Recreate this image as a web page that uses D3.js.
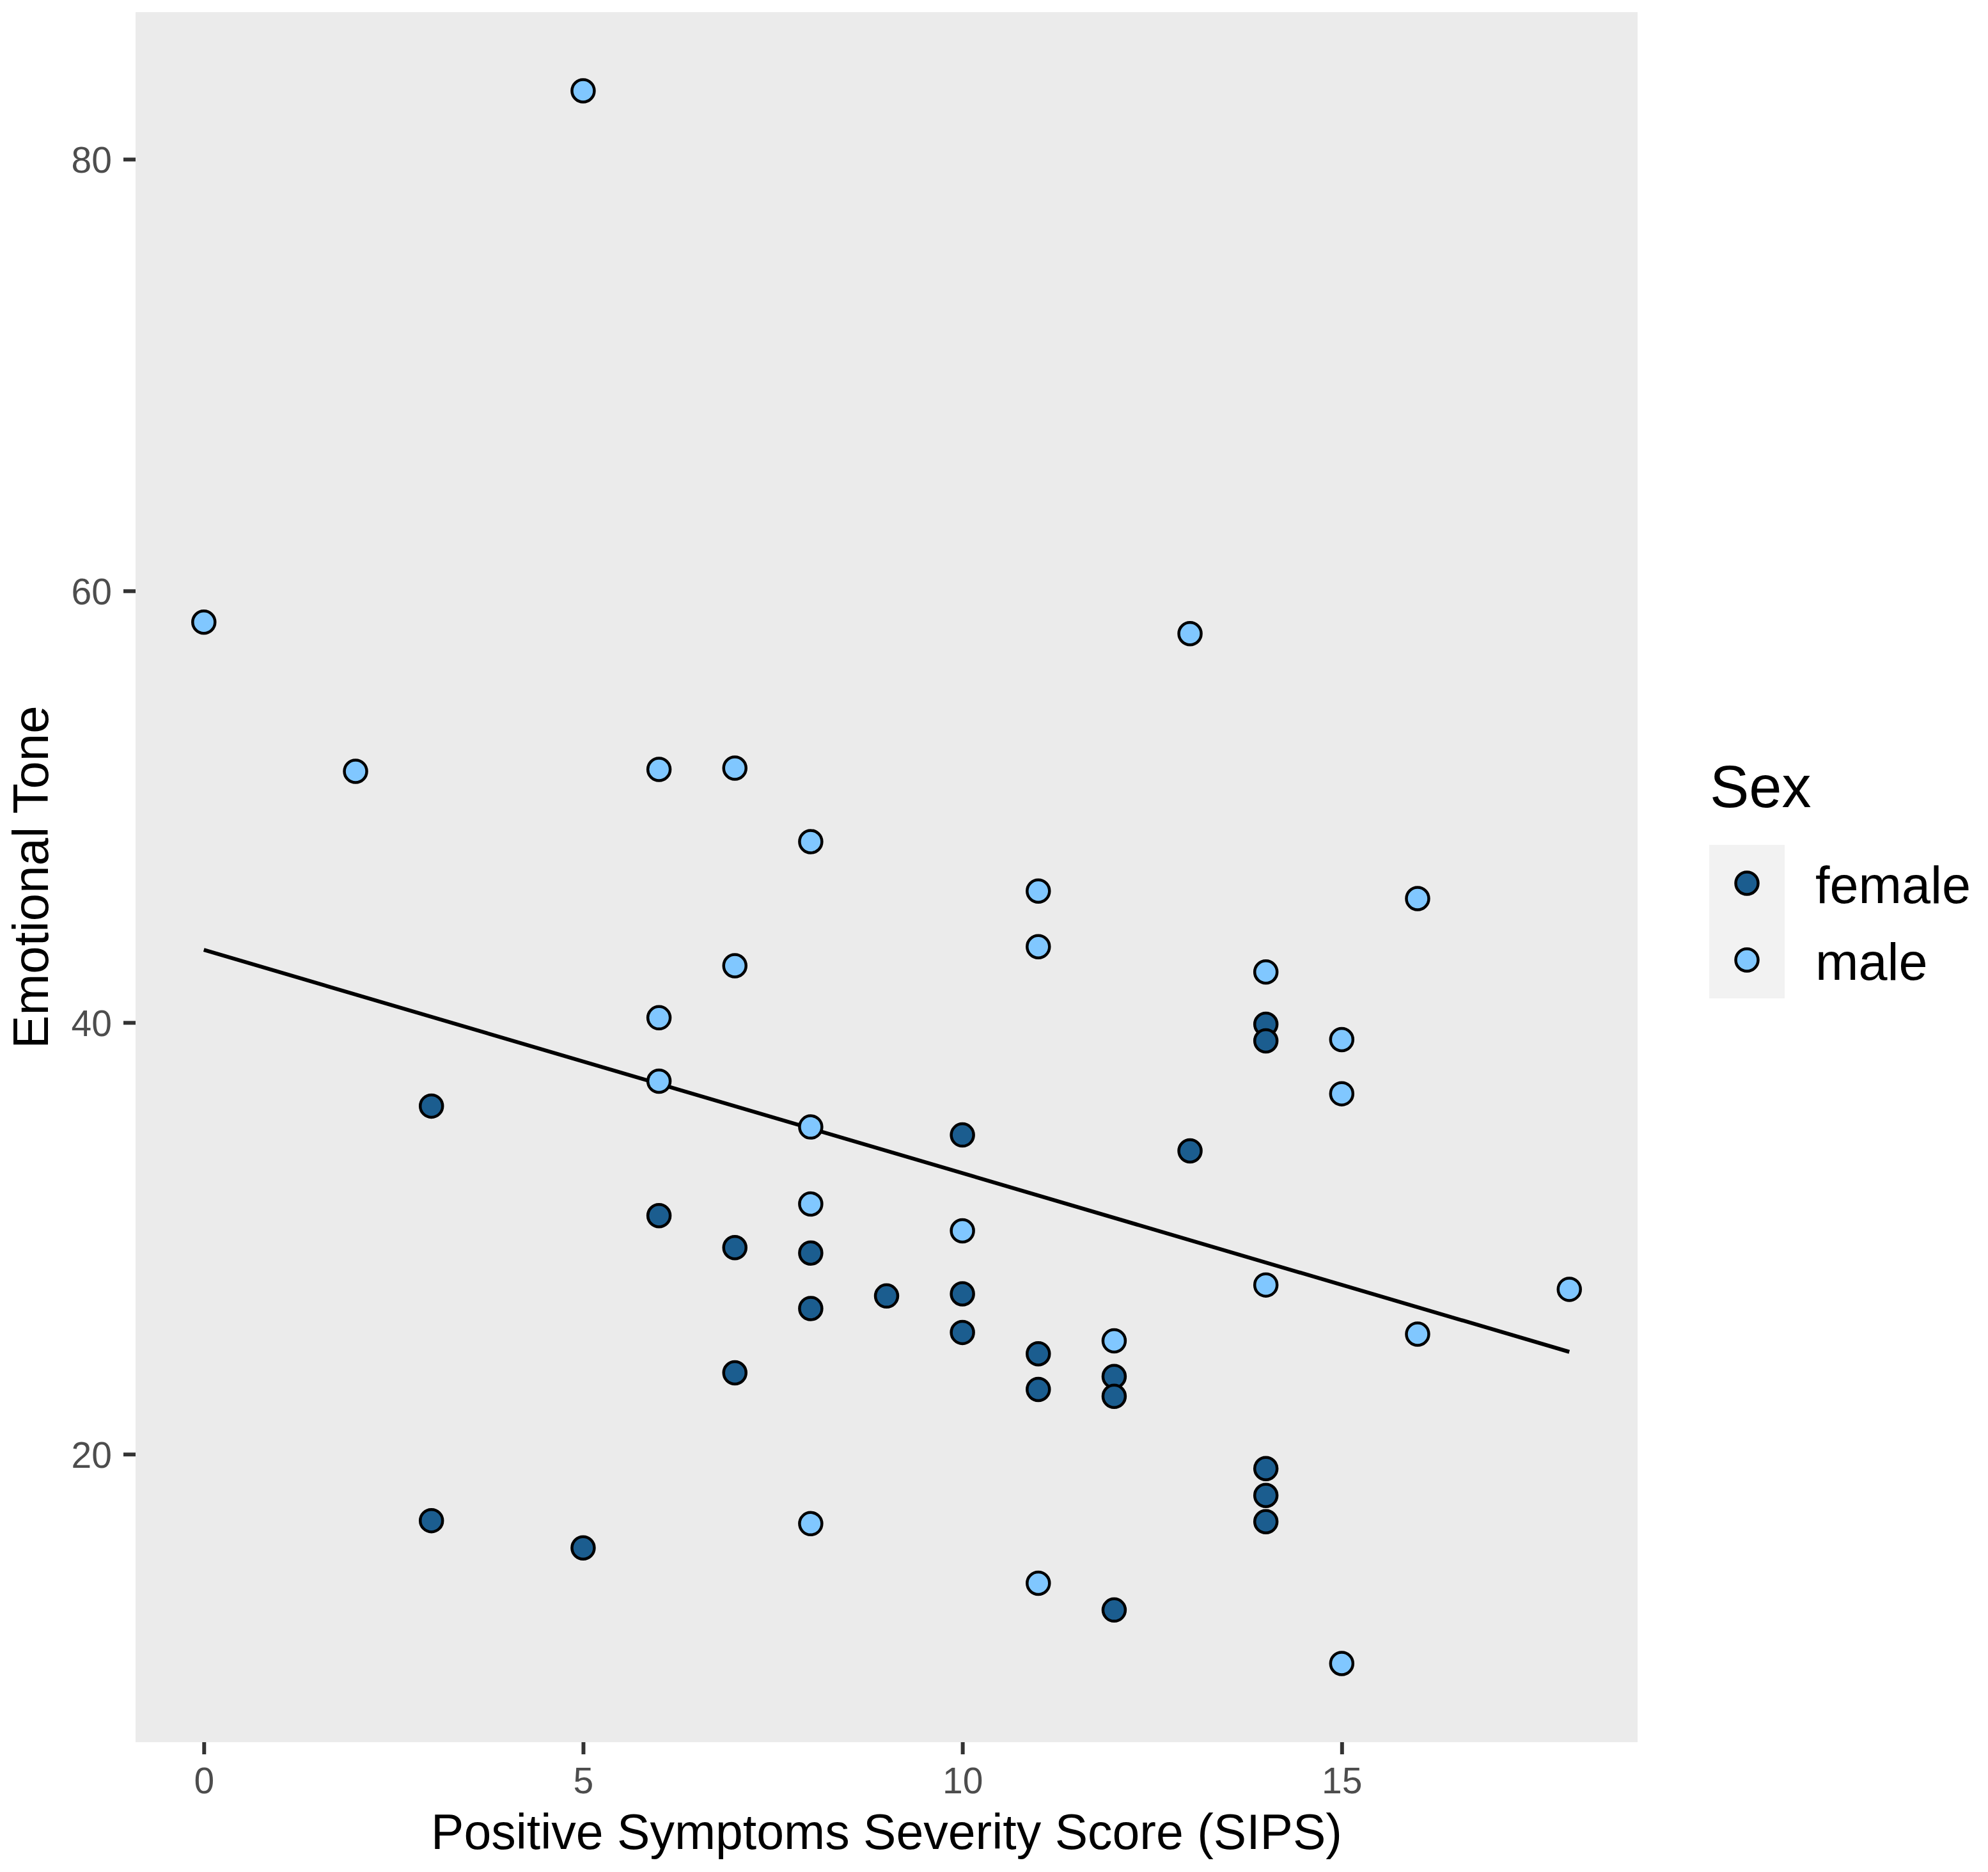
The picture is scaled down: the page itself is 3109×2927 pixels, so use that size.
<!DOCTYPE html>
<html>
<head>
<meta charset="utf-8">
<script src="https://cdn.jsdelivr.net/npm/d3@7"></script>
<style>
  html, body { margin: 0; padding: 0; background: #ffffff; }
  svg { display: block; }
  text { font-family: "Liberation Sans", Arial, Helvetica, sans-serif; }
</style>
</head>
<body>
<div id="chart"></div>
<script>
// ---------- data ----------
const sexCategories = ["female", "male"];
const sexColors = ["#1B5D8F", "#80C7FF"];

const femaleX = [3, 14, 14, 10, 13, 6, 7, 8, 9, 10, 8, 10, 11, 12, 7, 11, 12, 14, 14, 14, 3, 5, 12];
const femaleY = [36.13, 39.92, 39.15, 34.79, 34.05, 31.05, 29.57, 29.32, 27.33, 27.43, 26.75, 25.64, 24.65, 23.6, 23.77, 23.0, 22.68, 19.33, 18.09, 16.87, 16.92, 15.66, 12.78];

const maleX = [5, 0, 13, 2, 6, 7, 8, 11, 16, 11, 7, 14, 6, 15, 6, 15, 8, 8, 10, 14, 18, 16, 12, 8, 11, 15];
const maleY = [83.17, 58.55, 58.02, 51.64, 51.73, 51.79, 48.38, 46.09, 45.74, 43.51, 42.63, 42.34, 40.22, 39.21, 37.28, 36.70, 35.16, 31.59, 30.35, 27.84, 27.64, 25.56, 25.25, 16.78, 14.02, 10.30];

// fitted line (lm) end points
const fitX = [0, 18];
const fitY = [43.37, 24.74];

const xTicks = [0, 5, 10, 15];
const yTicks = [20, 40, 60, 80];

const xTitle = "Positive Symptoms Severity Score (SIPS)";
const yTitle = "Emotional Tone";
const legendTitle = "Sex";

// ---------- layout ----------
const W = 3109, H = 2927;
const panel = { left: 212, right: 2561, top: 19, bottom: 2724 };

const svg = d3.select("#chart").append("svg")
  .attr("width", W).attr("height", H)
  .attr("viewBox", `0 0 ${W} ${H}`);

svg.append("rect").attr("width", W).attr("height", H).attr("fill", "#ffffff");

// expansion like ggplot (5%)
const allX = femaleX.concat(maleX), allY = femaleY.concat(maleY);
const xExt = d3.extent(allX), yExt = d3.extent(allY);
const xPad = (xExt[1] - xExt[0]) * 0.05, yPad = (yExt[1] - yExt[0]) * 0.05;

const x = d3.scaleLinear().domain([xExt[0] - xPad, xExt[1] + xPad]).range([panel.left, panel.right]);
const y = d3.scaleLinear().domain([yExt[0] - yPad, yExt[1] + yPad]).range([panel.bottom, panel.top]);

// panel background
svg.append("rect")
  .attr("x", panel.left).attr("y", panel.top)
  .attr("width", panel.right - panel.left).attr("height", panel.bottom - panel.top)
  .attr("fill", "#EBEBEB");

// ---------- axes ----------
const tickLen = 19;
const xAxis = d3.axisBottom(x).tickValues(xTicks).tickSize(tickLen).tickPadding(20).tickFormat(d3.format("d"));
const gx = svg.append("g").attr("transform", `translate(0,${panel.bottom})`).call(xAxis);
gx.select(".domain").remove();
gx.selectAll(".tick line").attr("stroke", "#333333").attr("stroke-width", 6);
gx.selectAll(".tick text")
  .attr("fill", "#4D4D4D").attr("font-size", 57)
  .attr("dy", null).attr("y", 80)
  .style("font-family", "'Liberation Sans', Arial, Helvetica, sans-serif");

const yAxis = d3.axisLeft(y).tickValues(yTicks).tickSize(tickLen).tickPadding(18).tickFormat(d3.format("d"));
const gy = svg.append("g").attr("transform", `translate(${panel.left},0)`).call(yAxis);
gy.select(".domain").remove();
gy.selectAll(".tick line").attr("stroke", "#333333").attr("stroke-width", 6);
gy.selectAll(".tick text")
  .attr("fill", "#4D4D4D").attr("font-size", 57)
  .attr("dy", "0.36em")
  .style("font-family", "'Liberation Sans', Arial, Helvetica, sans-serif");

// axis titles
svg.append("text")
  .attr("x", (panel.left + panel.right) / 2).attr("y", 2891)
  .attr("text-anchor", "middle").attr("font-size", 77).attr("fill", "#000")
  .text(xTitle);

svg.append("text")
  .attr("transform", `translate(75,${(panel.top + panel.bottom) / 2}) rotate(-90)`)
  .attr("text-anchor", "middle").attr("font-size", 78).attr("fill", "#000")
  .text(yTitle);

// ---------- marks ----------
const plot = svg.append("g");

// regression line
const line = d3.line().x((d, i) => x(fitX[i])).y((d, i) => y(fitY[i]));
plot.append("path")
  .datum(fitX)
  .attr("d", line)
  .attr("fill", "none").attr("stroke", "#000000").attr("stroke-width", 6);

// points
const pts = [];
femaleX.forEach((v, i) => pts.push({ x: v, y: femaleY[i], s: "female" }));
maleX.forEach((v, i) => pts.push({ x: v, y: maleY[i], s: "male" }));

const color = d3.scaleOrdinal().domain(sexCategories).range(sexColors);
const R = 17.5;

plot.selectAll("circle.pt").data(pts).enter().append("circle")
  .attr("class", "pt")
  .attr("cx", d => x(d.x)).attr("cy", d => y(d.y)).attr("r", R)
  .attr("fill", d => color(d.s))
  .attr("stroke", "#000000").attr("stroke-width", 4.5);

// ---------- legend ----------
const leg = svg.append("g");
leg.append("text")
  .attr("x", 2674).attr("y", 1262)
  .attr("font-size", 92).attr("fill", "#000")
  .text(legendTitle);

const keyX = 2673, keyY = 1321, keyW = 118, keyH = 120;
sexCategories.forEach((c, i) => {
  leg.append("rect")
    .attr("x", keyX).attr("y", keyY + i * keyH)
    .attr("width", keyW).attr("height", keyH)
    .attr("fill", "#F2F2F2");
  leg.append("circle")
    .attr("cx", keyX + keyW / 2).attr("cy", keyY + i * keyH + keyH / 2)
    .attr("r", R).attr("fill", color(c))
    .attr("stroke", "#000000").attr("stroke-width", 4.5);
  leg.append("text")
    .attr("x", 2839).attr("y", keyY + i * keyH + keyH / 2 + 31)
    .attr("font-size", 81).attr("fill", "#000")
    .text(c);
});
</script>
</body>
</html>
